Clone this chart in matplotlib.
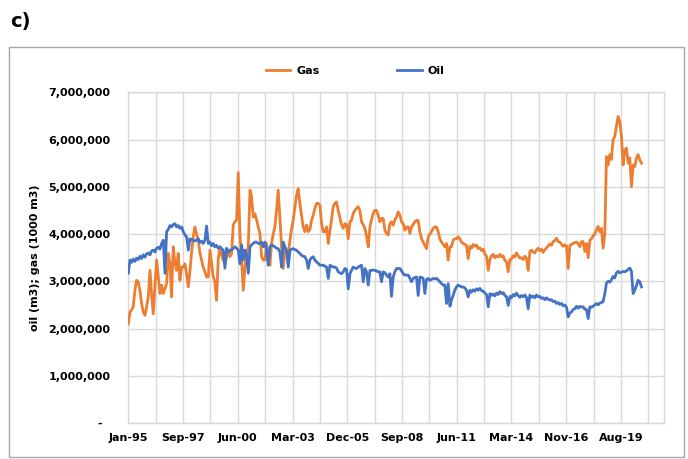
import matplotlib
matplotlib.use("Agg")
import matplotlib.pyplot as plt
from matplotlib.ticker import FuncFormatter
from matplotlib.patches import Rectangle
import numpy as np
import pandas as pd

# Monthly production, Jan-1995 .. Sep-2020 (values in thousands)
gas_k = [
    2100, 2350, 2390, 2460, 2800, 3020, 2990, 2810, 2530, 2350, 2280, 2460,  # 1995
    2670, 3230, 2740, 2310, 2900, 3450, 3090, 2740, 2920, 2740, 2850, 2950,  # 1996
    3590, 3370, 2670, 3730, 3400, 3230, 3590, 3020, 3300, 3300, 3370, 3150,  # 1997
    2880, 3230, 3600, 3940, 4150, 4000, 3870, 3600, 3450, 3300, 3200, 3090,  # 1998
    3090, 3660, 3400, 3100, 3000, 2600, 3450, 3730, 3550, 3450, 3370, 3500,  # 1999
    3660, 3520, 3590, 4190, 4260, 4290, 5300, 4010, 3450, 2810, 3300, 3590,  # 2000
    3730, 4930, 4790, 4360, 4430, 4300, 4150, 4020, 3520, 3450, 3450, 3800,  # 2001
    3520, 3340, 3800, 4000, 4150, 4500, 4930, 4360, 3730, 3270, 3660, 3590,  # 2002
    3590, 3870, 4100, 4290, 4550, 4820, 4960, 4650, 4400, 4150, 4050, 4190,  # 2003
    4050, 4100, 4290, 4400, 4540, 4650, 4650, 4610, 4220, 4050, 4050, 4150,  # 2004
    3800, 4080, 4300, 4580, 4650, 4680, 4500, 4350, 4190, 4120, 4220, 4200,  # 2005
    3900, 4260, 4290, 4430, 4500, 4540, 4580, 4500, 4260, 4200, 4120, 3950,  # 2006
    3730, 4150, 4300, 4430, 4500, 4500, 4400, 4260, 4330, 4330, 4080, 4010,  # 2007
    3980, 4220, 4260, 4190, 4300, 4360, 4470, 4400, 4260, 4220, 4080, 4150,  # 2008
    4150, 4010, 4150, 4200, 4260, 4290, 4290, 4050, 3900, 3830, 3760, 3690,  # 2009
    3940, 4000, 4050, 4120, 4150, 4150, 4050, 3900, 3830, 3780, 3730, 3800,  # 2010
    3450, 3730, 3730, 3870, 3900, 3900, 3940, 3900, 3830, 3800, 3780, 3760,  # 2011
    3480, 3740, 3700, 3780, 3740, 3770, 3690, 3710, 3650, 3680, 3580, 3530,  # 2012
    3230, 3460, 3540, 3570, 3500, 3540, 3510, 3570, 3520, 3540, 3440, 3410,  # 2013
    3200, 3460, 3470, 3540, 3510, 3600, 3540, 3490, 3500, 3460, 3530, 3490,  # 2014
    3230, 3630, 3660, 3620, 3600, 3660, 3700, 3650, 3680, 3610, 3670, 3700,  # 2015
    3750, 3790, 3760, 3840, 3860, 3910, 3840, 3830, 3780, 3740, 3770, 3750,  # 2016
    3270, 3760, 3780, 3800, 3820, 3830, 3800, 3730, 3840, 3840, 3630, 3800,  # 2017
    3500, 3870, 3900, 3960, 4000, 4090, 4160, 4050, 4120, 3700, 4010, 5640,  # 2018
    5460, 5680, 5580, 6000, 6060, 6280, 6490, 6380, 6060, 5460, 5780, 5820,  # 2019
    5500, 5610, 5000, 5460, 5430, 5610, 5680, 5570, 5500,                    # 2020
]
oil_k = [
    3170, 3450, 3400, 3470, 3420, 3490, 3460, 3530, 3480, 3560, 3510, 3580,  # 1995
    3600, 3560, 3640, 3660, 3620, 3700, 3720, 3680, 3800, 3870, 3170, 4050,  # 1996
    4100, 4180, 4150, 4200, 4220, 4150, 4180, 4120, 4150, 4050, 3980, 3940,  # 1997
    3660, 3900, 3880, 3870, 3850, 3870, 3900, 3820, 3850, 3800, 3870, 4170,  # 1998
    3800, 3830, 3750, 3800, 3730, 3760, 3700, 3730, 3690, 3660, 3280, 3700,  # 1999
    3620, 3660, 3660, 3700, 3730, 3700, 3660, 3370, 3770, 3450, 3660, 3550,  # 2000
    3170, 3730, 3770, 3800, 3830, 3830, 3800, 3800, 3830, 3730, 3830, 3660,  # 2001
    3340, 3730, 3770, 3750, 3730, 3700, 3690, 3620, 3300, 3830, 3730, 3650,  # 2002
    3300, 3660, 3680, 3690, 3670, 3660, 3620, 3590, 3550, 3530, 3520, 3450,  # 2003
    3270, 3450, 3500, 3520, 3450, 3410, 3380, 3340, 3340, 3340, 3320, 3300,  # 2004
    3060, 3340, 3320, 3300, 3300, 3280, 3200, 3180, 3160, 3200, 3270, 3250,  # 2005
    2840, 3160, 3230, 3300, 3280, 3270, 3300, 3320, 3340, 2990, 3270, 3200,  # 2006
    2920, 3230, 3230, 3240, 3230, 3220, 3200, 3200, 2990, 3200, 3180, 3130,  # 2007
    3090, 3160, 2680, 3090, 3200, 3270, 3270, 3270, 3220, 3160, 3130, 3130,  # 2008
    3130, 3060, 2990, 3060, 3080, 3090, 2700, 3090, 3080, 3060, 2740, 3040,  # 2009
    3060, 3020, 3040, 3060, 3050, 3060, 3030, 2990, 2950, 2920, 2920, 2530,  # 2010
    2950, 2470, 2600, 2700, 2810, 2880, 2920, 2900, 2880, 2880, 2860, 2810,  # 2011
    2670, 2810, 2770, 2820, 2790, 2840, 2810, 2850, 2800, 2790, 2750, 2720,  # 2012
    2460, 2740, 2700, 2730, 2690, 2750, 2720, 2780, 2740, 2760, 2700, 2670,  # 2013
    2490, 2680, 2650, 2720, 2690, 2750, 2700, 2660, 2700, 2670, 2710, 2660,  # 2014
    2420, 2710, 2660, 2690, 2650, 2710, 2670, 2680, 2640, 2650, 2610, 2650,  # 2015
    2620, 2600, 2610, 2570, 2580, 2530, 2550, 2510, 2530, 2480, 2500, 2450,  # 2016
    2250, 2330, 2350, 2400, 2420, 2470, 2430, 2470, 2450, 2460, 2410, 2400,  # 2017
    2210, 2460, 2450, 2470, 2500, 2530, 2500, 2540, 2550, 2570, 2740, 2960,  # 2018
    3000, 2980, 3030, 3100, 3070, 3180, 3210, 3180, 3190, 3210, 3200, 3220,  # 2019
    3250, 3280, 3210, 2740, 2810, 2910, 3020, 2990, 2880,                    # 2020
]

gas = np.array(gas_k) * 1000
oil = np.array(oil_k) * 1000
dates = pd.date_range("1995-01-01", periods=len(gas), freq="MS")

# Excel-style date axis: labels every 1000 days, gridlines every 500
start = pd.Timestamp("1995-01-01")
x_end = start + pd.Timedelta(days=9786)
major = [start + pd.Timedelta(days=1000 * k) for k in range(10)]
minor = [start + pd.Timedelta(days=1000 * k + 500) for k in range(10)]

orange = "#ED7D31"
blue = "#4472C4"
grid_c = "#D9D9D9"

fig = plt.figure(figsize=(6.88, 4.59), dpi=100)
ax = fig.add_axes([128.3 / 688, 1 - 423 / 459, (664 - 128.3) / 688, (423 - 92.3) / 459])

ax.plot(dates, gas, color=orange, lw=2.0, label="Gas", zorder=3)
ax.plot(dates, oil, color=blue, lw=2.0, label="Oil", zorder=3)

ax.set_xlim(start, x_end)
ax.set_ylim(0, 7000000)
ax.set_yticks(np.arange(0, 7000001, 1000000))
ax.yaxis.set_major_formatter(FuncFormatter(lambda v, p: "-  " if v == 0 else f"{int(v):,}"))

ax.set_xticks(major)
ax.set_xticklabels([d.strftime("%b-%y") for d in major])
ax.set_xticks(minor, minor=True)

ax.grid(True, which="both", color=grid_c, lw=1.0, zorder=0)
ax.tick_params(which="both", length=0)
ax.tick_params(axis="y", pad=13)
ax.tick_params(axis="x", pad=7)
for lab in ax.get_xticklabels() + ax.get_yticklabels():
    lab.set_fontweight("bold")
    lab.set_fontsize(8)
for s in ax.spines.values():
    s.set_color(grid_c)
    s.set_linewidth(1.0)

ax.set_ylabel("oil (m3); gas (1000 m3)", fontsize=8, fontweight="bold", labelpad=6)

fig.legend(loc="center", bbox_to_anchor=(355 / 688, 1 - 71 / 459), ncol=2, frameon=False,
           prop={"weight": "bold", "size": 8}, handlelength=2.2, handletextpad=0.5,
           columnspacing=7.0)

# outer frame and panel letter
fig.patches.append(Rectangle((9 / 688, 1 - 457 / 459), 675 / 688, 410 / 459,
                             transform=fig.transFigure, fill=False, ec="#A6A6A6", lw=1.0))
fig.text(10 / 688, 1 - 22 / 459, "c)", fontsize=14, fontweight="bold", va="center", ha="left")

fig.savefig("out.png", dpi=100)
